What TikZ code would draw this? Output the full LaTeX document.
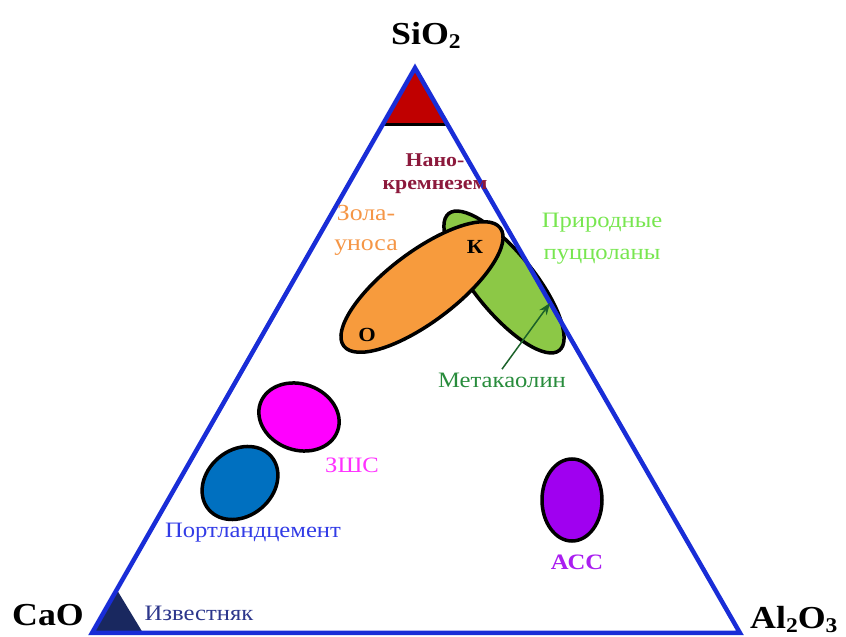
\documentclass[tikz,border=0pt]{standalone}
\usepackage{fontspec}
\setmainfont{Liberation Serif}[FakeStretch=1.12]
\usetikzlibrary{arrows.meta}
\definecolor{triblue}{RGB}{25,45,215}
\definecolor{nanored}{RGB}{192,0,0}
\definecolor{limenavy}{RGB}{25,40,95}
\definecolor{flyorange}{RGB}{247,155,61}
\definecolor{pozzgreen}{RGB}{140,200,70}
\definecolor{slagpink}{RGB}{255,0,255}
\definecolor{portblue}{RGB}{0,112,192}
\definecolor{aaviolet}{RGB}{160,0,240}
\definecolor{nanotext}{RGB}{140,25,60}
\definecolor{flytext}{RGB}{245,150,70}
\definecolor{pozztext}{RGB}{120,230,80}
\definecolor{metatext}{RGB}{40,140,60}
\definecolor{slagtext}{RGB}{255,50,255}
\definecolor{porttext}{RGB}{50,60,230}
\definecolor{aatext}{RGB}{170,30,240}
\definecolor{limetext}{RGB}{45,55,140}
\newcommand{\lowsub}[1]{\raisebox{-0.1em}{\fontsize{21}{21}\selectfont #1}}
\tikzset{
  corner/.style={font=\fontsize{32}{32}\selectfont\bfseries, anchor=base west, inner sep=0pt},
  label/.style={font=\fontsize{22}{24}\selectfont, align=center},
  blob/.style={draw=black, line width=3.5pt}
}
\begin{document}
\begin{tikzpicture}[x=1pt,y=1pt]
\useasboundingbox (0,0) rectangle (846,637);
\coordinate (S) at (415,569);
\coordinate (C) at (92,4);
\coordinate (A) at (740,4);
% corner regions
\fill[nanored] (S) -- (382,512) -- (448,512) -- cycle;
\draw[line width=3pt] (382,512) -- (448,512);
\fill[limenavy] (C) -- (117,47) -- (143,4) -- cycle;
% material fields
\foreach \x/\y/\a/\rx/\ry/\c in {504/355/-51/88/30/pozzgreen,422/350/37/98/35/flyorange,
  299/220/-20/41/33/slagpink,240/154/40/41/33/portblue,572/137/0/30/41/aaviolet} {
  \draw[blob, fill=\c, rotate around={\a:(\x,\y)}] (\x,\y) ellipse ({\rx} and {\ry});
}
\draw[triblue, line width=4.5pt, line join=miter] (S) -- (A) -- (C) -- cycle;
\node[corner] (sio) at (391,592) {SiO\lowsub{2}};
\node[corner] (cao) at (12,11) {CaO};
\node[corner] (alo) at (750,8) {Al\lowsub{2}O\lowsub{3}};
\node[label, nanotext, font=\fontsize{19.5}{23}\selectfont\bfseries] (nano) at (435,463) {Нано-\\кремнезем};
\node[label, flytext, font=\fontsize{23}{30}\selectfont] (fly) at (366,407) {Зола-\\уноса};
\node[font=\fontsize{20}{20}\selectfont\bfseries] (k) at (475,390) {К};
\node[font=\fontsize{20}{20}\selectfont\bfseries] (o) at (367,302) {О};
\node[label, pozztext, font=\fontsize{22}{32}\selectfont] (pozz) at (602,398) {Природные\\пуццоланы};
\node[label, metatext] (meta) at (502,257) {Метакаолин};
\coordinate (metatip) at (550,334);
\draw[metatext!70!black, line width=1.5pt, -{Stealth[length=12pt,width=9pt]}] (meta.north) -- (metatip);
\node[label, slagtext] (zshs) at (352,172) {ЗШС};
\node[label, porttext] (port) at (253,104) {Портландцемент};
\node[label, aatext, font=\fontsize{22}{24}\selectfont\bfseries] (acc) at (577,75) {АСС};
\node[label, limetext] (izv) at (199,24) {Известняк};
\end{tikzpicture}
\end{document}
